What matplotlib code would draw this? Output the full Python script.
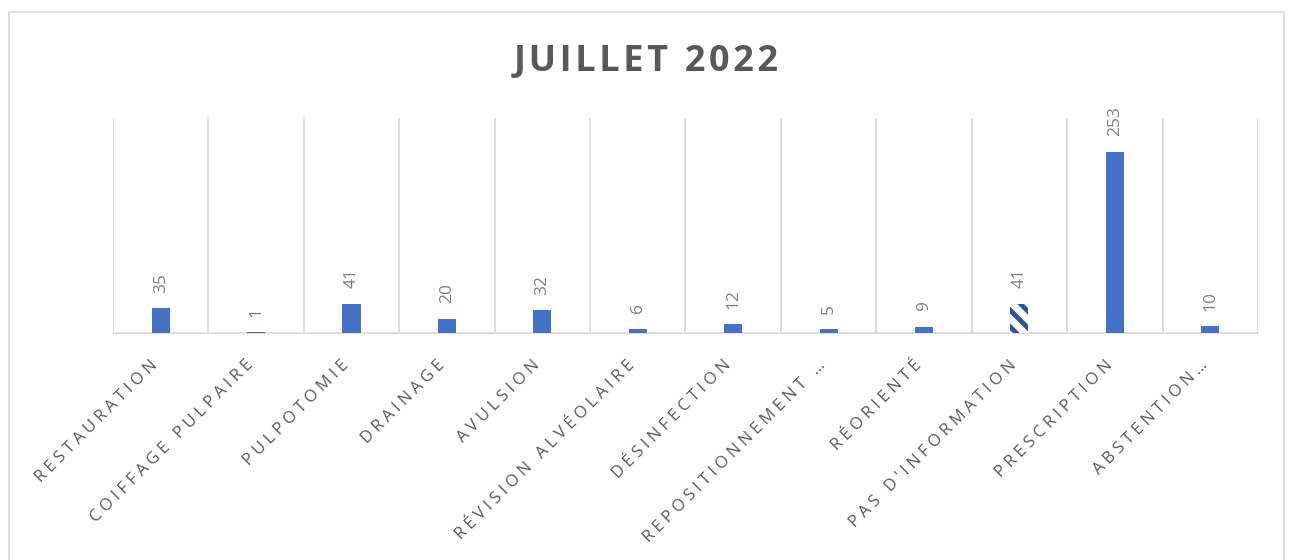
import numpy as np
import matplotlib.pyplot as plt
from matplotlib.patches import Rectangle
from matplotlib.transforms import ScaledTranslation

plt.rcParams['font.family'] = ['Open Sans', 'DejaVu Sans']
plt.rcParams['hatch.linewidth'] = 3.5

categories = ['RESTAURATION', 'COIFFAGE PULPAIRE', 'PULPOTOMIE', 'DRAINAGE',
              'AVULSION', 'RÉVISION ALVÉOLAIRE', 'DÉSINFECTION',
              'REPOSITIONNEMENT …', 'RÉORIENTÉ', "PAS D'INFORMATION",
              'PRESCRIPTION', 'ABSTENTION…']
values = [35, 1, 41, 20, 32, 6, 12, 5, 9, 41, 253, 10]
title = 'JUILLET 2022'

def spaced(s, sep):
    # espacement des lettres comme dans Excel
    return sep.join(s)

fig = plt.figure(figsize=(12.93, 5.6), dpi=100)
ax = fig.add_axes([0.0874, 0.4054, 0.8855, 0.3839])

x = np.arange(len(categories))
bars = ax.bar(x, values, width=0.19, color='#4472C4', zorder=3)
# barre "pas d'information" avec motif
bars[9].set_facecolor('white')
bars[9].set_edgecolor('#2F5597')
bars[9].set_hatch('\\\\')
bars[9].set_linewidth(0)

for xi, v in zip(x, values):
    ax.annotate(str(v), (xi, v), xytext=(0, 11), textcoords='offset points',
                rotation=90, ha='center', va='bottom', fontsize=12.5,
                color='#808080')

ax.set_xlim(-0.5, len(categories) - 0.5)
ax.set_ylim(0, 300)
ax.set_yticks([])
ax.set_xticks(x)
ax.set_xticklabels([spaced(c, '\u2005') for c in categories], rotation=45,
                   ha='right', va='center', rotation_mode='anchor',
                   fontsize=12, color='#595959')
ax.tick_params(axis='x', length=0, pad=18)
shift = ScaledTranslation(-5 / 100, -5 / 100, fig.dpi_scale_trans)
for lab in ax.get_xticklabels():
    lab.set_transform(lab.get_transform() + shift)
ax.set_xticks(np.arange(-0.5, len(categories)), minor=True)
ax.tick_params(axis='x', which='minor', length=0)
ax.grid(which='minor', axis='x', color='#d9d9d9', linewidth=1.2, zorder=0)

for s in ['top', 'left', 'right']:
    ax.spines[s].set_visible(False)
ax.spines['bottom'].set_color('#d9d9d9')
ax.spines['bottom'].set_linewidth(1.2)

fig.text(0.5, 0.889, spaced(title, '\u200a'), ha='center', va='center',
         fontsize=26, fontweight='bold', color='#595959')

fig.patches.append(Rectangle((0.007, -0.01), 0.986, 0.9886, transform=fig.transFigure,
                             fill=False, edgecolor='#d9d9d9', linewidth=1.2))

fig.savefig('out.png', dpi=100)
